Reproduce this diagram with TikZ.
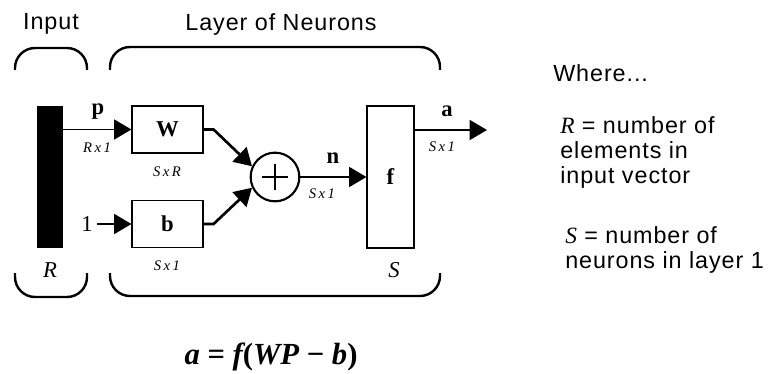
\documentclass[tikz,border=0pt]{standalone}
\usepackage{fontspec}
\setmainfont{Liberation Sans}[LetterSpace=4]
\newfontfamily\serif{Liberation Serif}
\usetikzlibrary{arrows.meta,positioning}

\begin{document}
\begin{tikzpicture}[x=0.75pt,y=-0.75pt,every node/.style={font=\fontsize{17.5}{18.75}\selectfont}]
  \tikzset{
    box/.style={rectangle,draw,line width=1.1pt,fill=white,minimum width=53pt,minimum height=35pt,inner sep=0pt},
    tall/.style={rectangle,draw,line width=1.1pt,minimum width=35pt,minimum height=106.5pt,inner sep=0pt},
    sym/.style={font=\serif\bfseries\fontsize{17}{18}\selectfont,inner sep=0pt},
    dim/.style={font=\serif\itshape\fontsize{11}{12}\selectfont,inner sep=0pt},
    big/.style={font=\serif\itshape\fontsize{17}{18}\selectfont,inner sep=0pt},
    brace/.style={line width=1.8pt,rounded corners=15pt},
    arr/.style={-{Triangle[length=13pt,width=15pt]},line width=1.3pt}
  }
  \useasboundingbox (0,0) rectangle (773,374);
  % headings
  \node (input) at (51,24) {Input};
  \node (layer) at (281,24) {Layer of Neurons};
  % braces
  \draw[brace] (15,70) -- (15,48) -- (87,48) -- (87,70);
  \draw[brace] (15,273) -- (15,297) -- (87,297) -- (87,273);
  \draw[brace] (110,70) -- (110,47) -- (440,47) -- (440,70);
  \draw[brace] (110,273) -- (110,296) -- (440,296) -- (440,273);
  % blocks
  \node[rectangle,fill=black,minimum width=19.5pt,minimum height=106.5pt,inner sep=0pt] (bar) at (50,177) {};
  \node[box] (W) at (167.5,129.5) {};
  \node[sym] at (W) {W};
  \node[box] (b) at (167.5,224) {};
  \node[sym] at (b) {b};
  \node[circle,draw,line width=1.6pt,minimum size=36.5pt,inner sep=0pt] (sum) at (275,177) {};
  \draw[line width=0.9pt] ([xshift=-10pt]sum.center) -- ([xshift=10pt]sum.center);
  \draw[line width=0.9pt] ([yshift=-10pt]sum.center) -- ([yshift=10pt]sum.center);
  \node[tall] (f) at (390.5,177) {};
  \node[sym] at (f) {f};
  \node[font=\serif\fontsize{17}{18}\selectfont,inner sep=0pt] (one) at (87,224) {1};
  \coordinate (out) at (487,130);
  % signals
  \draw[arr] (bar.east |- W.west) -- (W.west);
  \draw[arr] (one.east) ++(3pt,0) -- (b.west);
  \draw[arr,line width=2pt] (W.east) -- ++(10,0) -- (sum.155);
  \draw[arr,line width=2pt] (b.east) -- ++(10,0) -- (sum.205);
  \draw[arr] (sum.east) -- (f.west);
  \draw[arr] (f.east |- out) -- (out);
  % labels
  \foreach \name/\x/\y/\txt in {p/98/112/p,n/333/158/n,a/447/111/a}
    \node[sym] (\name) at (\x,\y) {\txt};
  \foreach \name/\x/\y/\txt in {pdim/97/148/{R\,x\,1},wdim/167/172/{S\,x\,R},bdim/167/266/{S\,x\,1},ndim/322/194/{S\,x\,1},adim/442/147/{S\,x\,1}}
    \node[dim] (\name) at (\x,\y) {\txt};
  \node[big] (rlab) at (50,270) {R};
  \node[big] (slab) at (394,270) {S};
  % legend
  \node[anchor=west,inner sep=0pt] (where) at (553,73) {Where...};
  \node[anchor=west,align=left,inner sep=0pt] (rdef) at (560,152) {{\serif\itshape R} = number of\\elements in\\input vector};
  \node[anchor=west,align=left,inner sep=0pt] (sdef) at (565,250) {{\serif\itshape S} = number of\\neurons in layer 1};
  % equation
  \node[font=\serif\bfseries\fontsize{23}{25}\selectfont,inner sep=0pt] (eq) at (271,357) {{\itshape a} = {\itshape f}({\itshape WP} − {\itshape b})};
\end{tikzpicture}
\end{document}
